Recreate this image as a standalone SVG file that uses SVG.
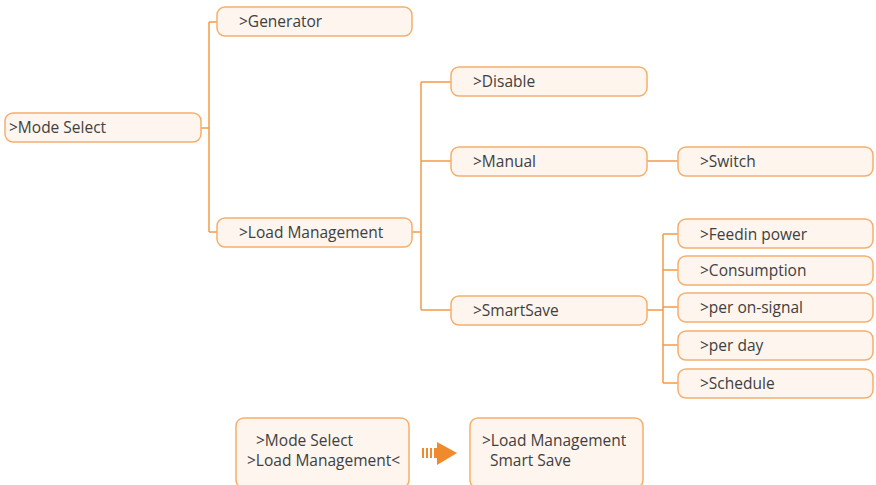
<svg xmlns="http://www.w3.org/2000/svg" width="876" height="485" viewBox="0 0 876 485">
<style>
.box{fill:#fdf5ee;stroke:#f6ae6c;stroke-width:1.5}
.t{font-family:"Open Sans","Liberation Sans",sans-serif;font-size:15.5px;fill:#404040}
.c{fill:none;stroke:#f39a4a;stroke-width:1.5}
</style>
<rect width="876" height="485" fill="#ffffff"/>
<g id="connectors">
<path class="c" d="M201 128H209M209 22V232M209 22H217M209 232H217"/>
<path class="c" d="M412 232H421M421 82V310M421 82H451M421 161H451M421 310H451"/>
<path class="c" d="M647 161H678"/>
<path class="c" d="M647 310H663M663 234V383M663 234H678M663 270H678M663 307H678M663 345H678M663 383H678"/>
</g>
<g id="mode-select"><rect class="box" x="5" y="113" width="196" height="29" rx="8"/><text class="t" x="9" y="133">&gt;Mode Select</text></g>
<g id="generator"><rect class="box" x="217" y="7" width="195" height="29" rx="8"/><text class="t" x="239" y="27">&gt;Generator</text></g>
<g id="load-management"><rect class="box" x="217" y="218" width="195" height="29" rx="8"/><text class="t" x="239" y="238">&gt;Load Management</text></g>
<g id="disable"><rect class="box" x="451" y="67" width="196" height="29" rx="8"/><text class="t" x="473" y="87">&gt;Disable</text></g>
<g id="manual"><rect class="box" x="451" y="147" width="196" height="29" rx="8"/><text class="t" x="473" y="167">&gt;Manual</text></g>
<g id="switch"><rect class="box" x="678" y="147" width="195" height="29" rx="8"/><text class="t" x="700" y="167">&gt;Switch</text></g>
<g id="smartsave"><rect class="box" x="451" y="296" width="196" height="29" rx="8"/><text class="t" x="473" y="316">&gt;SmartSave</text></g>
<g id="feedin"><rect class="box" x="678" y="219" width="195" height="29" rx="8"/><text class="t" x="700" y="240">&gt;Feedin power</text></g>
<g id="consumption"><rect class="box" x="678" y="256" width="195" height="29" rx="8"/><text class="t" x="700" y="276">&gt;Consumption</text></g>
<g id="on-signal"><rect class="box" x="678" y="293" width="195" height="29" rx="8"/><text class="t" x="700" y="313">&gt;per on-signal</text></g>
<g id="per-day"><rect class="box" x="678" y="331" width="195" height="29" rx="8"/><text class="t" x="700" y="351">&gt;per day</text></g>
<g id="schedule"><rect class="box" x="678" y="369" width="195" height="29" rx="8"/><text class="t" x="700" y="389">&gt;Schedule</text></g>
<g id="screen-left"><rect class="box" x="236" y="418" width="173" height="70" rx="8"/><text class="t" x="256" y="446">&gt;Mode Select</text><text class="t" x="247" y="466">&gt;Load Management&lt;</text></g>
<g id="arrow">
<rect x="422" y="448" width="2" height="10" fill="#f08a2c"/>
<rect x="426" y="448" width="2" height="10" fill="#f08a2c"/>
<rect x="430" y="448" width="2" height="10" fill="#f08a2c"/>
<rect x="434" y="448" width="3" height="10" fill="#f08a2c"/>
<polygon points="437,442 457,453 437,465" fill="#f08a2c"/>
</g>
<g id="screen-right"><rect class="box" x="470" y="418" width="173" height="70" rx="8"/><text class="t" x="482" y="446">&gt;Load Management</text><text class="t" x="490" y="466">Smart Save</text></g>
</svg>
